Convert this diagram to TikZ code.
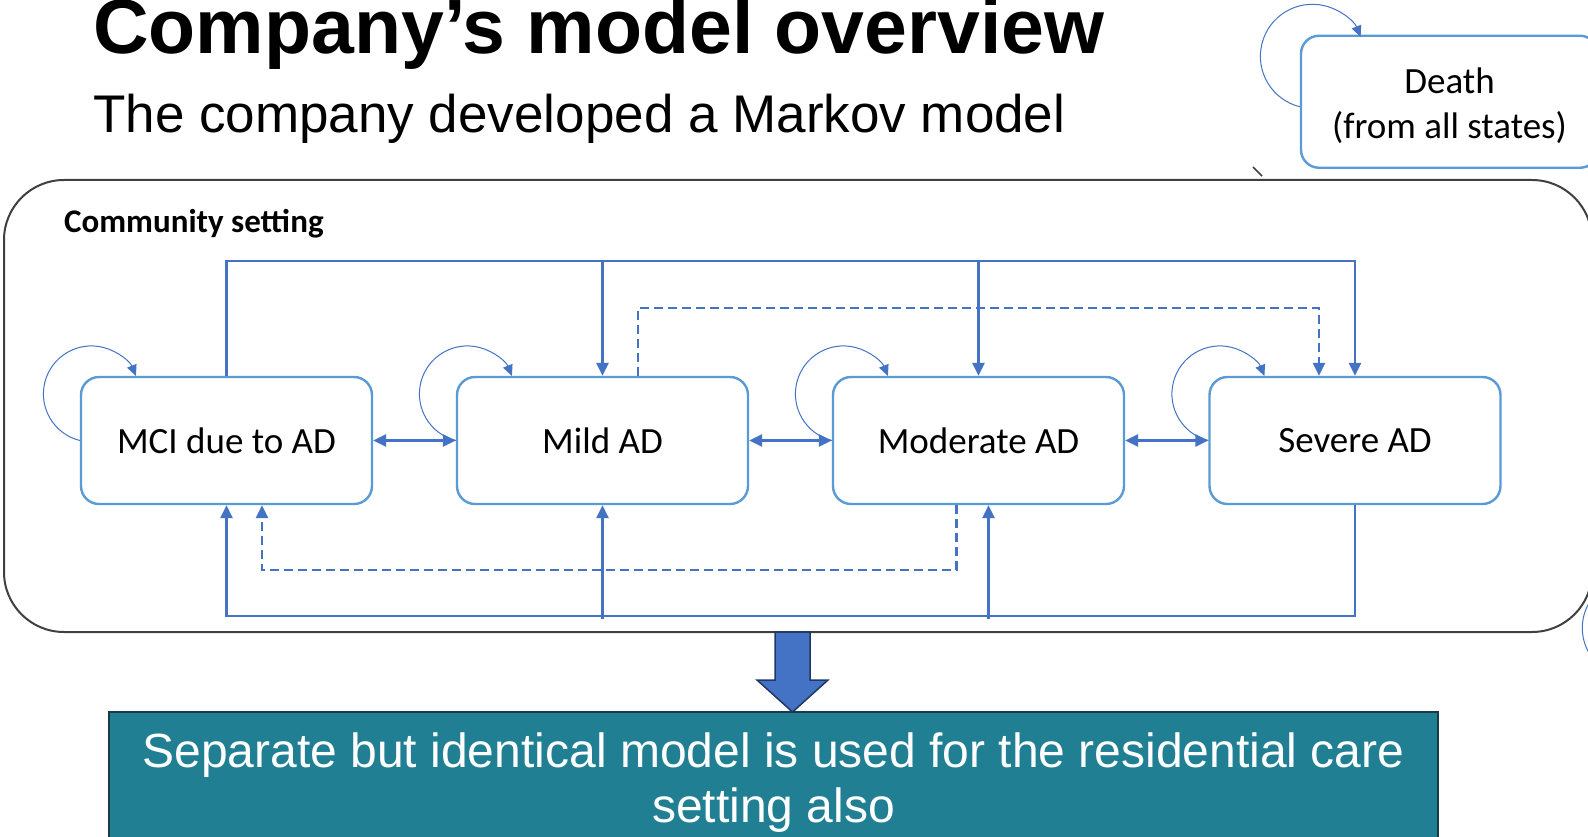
\documentclass[tikz,border=0pt]{standalone}
\usepackage{fontspec}
\setmainfont{Carlito}
\newfontfamily\arialf{Liberation Sans}
\usetikzlibrary{arrows.meta}
\definecolor{connblue}{HTML}{4472C4}
\definecolor{boxblue}{HTML}{5B9BD5}
\definecolor{framegray}{HTML}{404040}
\definecolor{tealbox}{HTML}{217F93}
\definecolor{navyedge}{HTML}{1F3864}
\definecolor{tealedge}{HTML}{1B3A48}
\tikzset{
  statebox/.style={draw=boxblue, line width=2.4pt, rounded corners=18pt, minimum width=291pt, minimum height=127pt, inner sep=0pt, font=\fontsize{37}{45}\selectfont, align=center},
  conn/.style={draw=connblue, line width=2.8pt},
  dconn/.style={conn, dash pattern=on 9pt off 5pt},
  headend/.style={-{Triangle[length=13pt,width=12pt]}},
  headboth/.style={{Triangle[length=13pt,width=12pt]}-{Triangle[length=13pt,width=12pt]}},
  selfloop/.style={draw=connblue, line width=1pt, -{Triangle[length=11pt,width=10pt]}},
}
\begin{document}
\begin{tikzpicture}[x=1pt,y=1pt]
\useasboundingbox (0,0) rectangle (1588,-837);
\clip (0,0) rectangle (1588,-837);
\fill[white] (0,0) rectangle (1588,-837);

% titles
\node[anchor=base west, inner sep=0pt, font=\arialf\bfseries\fontsize{77}{80}\selectfont] (title) at (93,-54) {Company’s model overview};
\node[anchor=base west, inner sep=0pt, font=\arialf\fontsize{53}{58}\selectfont] (subtitle) at (93,-132.7) {The company developed a Markov model};

% community frame
\draw[framegray, line width=2pt, rounded corners=60pt] (4,-180) rectangle (1592,-632);
\node[anchor=base west, inner sep=0pt, font=\bfseries\fontsize{33}{38}\selectfont] (comm) at (64,-233) {Community setting};
\draw[framegray, line width=1.5pt] (1253,-167) -- (1262,-176);

% death
\node[statebox, minimum width=297pt, minimum height=132pt] (death) at (1449.5,-101.75) {};
\node[inner sep=0pt, align=center, font=\fontsize{37}{45}\selectfont] (deathtxt) at ([yshift=-4pt]death.center) {Death\\(from all states)};
\draw[selfloop] ([yshift=-5pt]death.west) arc[start angle=256, end angle=22, radius=52];

% states
\node[statebox] (mci) at (226.5,-440.5) {MCI due to AD};
\node[statebox] (mild) at (602.5,-440.5) {Mild AD};
\node[statebox] (mod) at (978.5,-440.5) {Moderate AD};
\node[statebox] (sev) at (1355,-440.5) {Severe AD};

% self loops
\foreach \n in {mci,mild,mod,sev}{
  \draw[selfloop] (\n.west) arc[start angle=256, end angle=22, radius=48];
}
\draw[connblue, line width=1pt] (1589,-603) arc[start angle=150, end angle=210, radius=50];

% horizontal double arrows
\draw[conn, headboth] (mci.east) -- (mild.west);
\draw[conn, headboth] (mild.east) -- (mod.west);
\draw[conn, headboth] (mod.east) -- (sev.west);

% level coordinates
\coordinate (topY) at (0,-261);
\coordinate (dtopY) at (0,-308);
\coordinate (dbotY) at (0,-570);
\coordinate (botY) at (0,-616);
\coordinate (botYlow) at (0,-619);

% top solid connector from MCI
\draw[conn, headend] (mci.north) |- (sev.north |- topY) -- (sev.north);
\draw[conn, headend] (mild.north |- topY) -- (mild.north);
\draw[conn, headend] (mod.north |- topY) -- (mod.north);

% top dashed connector from Mild to Severe
\coordinate (mildd) at ([xshift=35.5pt]mild.north);
\coordinate (sevd) at ([xshift=-36pt]sev.north);
\draw[dconn, headend] (mildd) |- (sevd |- dtopY) -- (sevd);

% bottom solid connector from Severe
\draw[conn, headend] (sev.south) |- (mci.south |- botY) -- (mci.south);
\draw[conn, headend] (mild.south |- botYlow) -- (mild.south);
\coordinate (modb) at ([xshift=10pt]mod.south);
\draw[conn, headend] (modb |- botYlow) -- (modb);

% bottom dashed connector from Moderate to MCI
\coordinate (modd) at ([xshift=-22pt]mod.south);
\coordinate (mcid) at ([xshift=35.5pt]mci.south);
\draw[dconn, headend] (modd) |- (mcid |- dbotY) -- (mcid);

% big down arrow
\draw[fill=connblue, draw=navyedge, line width=1.5pt, line join=miter]
  (775,-632) -- (810,-632) -- (810,-680) -- (828,-680) -- (792.5,-712) -- (757,-680) -- (775,-680) -- cycle;

% teal note
\draw[fill=tealbox, draw=tealedge, line width=2pt] (109,-712) rectangle (1438,-850);
\node[anchor=base, inner sep=0pt, text=white, font=\arialf\fontsize{48}{55}\selectfont] (note1) at (773.5,-767) {Separate but identical model is used for the residential care};
\node[anchor=base, inner sep=0pt, text=white, font=\arialf\fontsize{48}{55}\selectfont] (note2) at (773.5,-822) {setting also};
\end{tikzpicture}
\end{document}
